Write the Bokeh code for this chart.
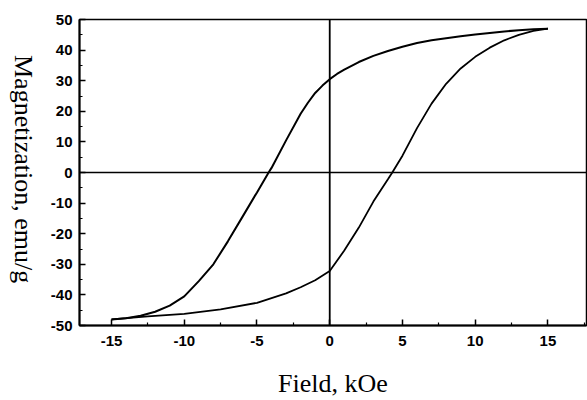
from bokeh.plotting import figure
from bokeh.models import Span, Range1d, FixedTicker, CustomJSTickFormatter, Div
from bokeh.layouts import row
from bokeh.embed import file_html
from bokeh.resources import INLINE

# Descending branch (from +15 kOe to -15 kOe)
field_down = [15, 14, 13, 12, 11, 10, 9, 8, 7, 6, 5, 4, 3, 2, 1, 0.5, 0,
              -0.5, -1, -1.5, -2, -3, -4, -4.2, -5, -6, -7, -8, -9, -10, -11, -12, -13, -14, -15]
mag_down = [47, 46.8, 46.5, 46.1, 45.6, 45.1, 44.5, 43.9, 43.2, 42.3, 41.1, 39.7, 38.1, 36.1, 33.6, 32.2, 30.5,
            28.4, 26, 22.8, 19.2, 10.5, 1.5, 0, -6.5, -14.5, -22.5, -30, -35.5, -40.5, -43.5, -45.5, -46.8, -47.6, -48]

# Ascending branch (from -15 kOe to +15 kOe)
field_up = [-15, -12.5, -10, -7.5, -5, -3, -2, -1, 0, 1, 2, 3, 4, 4.3, 5, 6, 7, 8, 9, 10, 11, 12, 13, 14, 15]
mag_up = [-48, -47, -46.2, -44.7, -42.6, -39.5, -37.5, -35.2, -32.2, -25.5, -18, -9.5, -2.2, 0, 5.5,
          14.5, 22.5, 29, 34, 37.8, 40.8, 43.2, 45, 46.3, 47]

x_ticks = [-15, -10, -5, 0, 5, 10, 15]
y_ticks = [-50, -40, -30, -20, -10, 0, 10, 20, 30, 40, 50]
x_label = "Field, kOe"
y_label = "Magnetization, emu/g"

p = figure(width=547, height=400, output_backend="svg", toolbar_location=None,
           x_range=Range1d(-17.2, 17.65), y_range=Range1d(-50, 50),
           min_border_left=39, min_border_right=1, min_border_top=19, min_border_bottom=74,
           margin=0)

p.xgrid.visible = False
p.ygrid.visible = False
p.background_fill_color = "white"
p.border_fill_color = "white"
p.outline_line_color = "black"
p.outline_line_width = 1.5

p.line(field_down, mag_down, line_color="black", line_width=2)
p.line(field_up, mag_up, line_color="black", line_width=1.8)

p.add_layout(Span(location=0, dimension="width", line_color="black", line_width=1.5))
p.add_layout(Span(location=0, dimension="height", line_color="black", line_width=1.8))

fmt = CustomJSTickFormatter(code="return tick.toString();")
for ax in (p.xaxis[0], p.yaxis[0]):
    ax.axis_line_width = 2
    ax.major_tick_in = 6
    ax.major_tick_out = 0
    ax.minor_tick_in = 3
    ax.minor_tick_out = 0
    ax.major_tick_line_width = 1.5
    ax.minor_tick_line_width = 1.2
    ax.major_label_text_font = "Liberation Sans"
    ax.major_label_text_font_style = "bold"
    ax.major_label_text_font_size = "15px"
    ax.major_label_text_color = "black"
    ax.formatter = fmt

p.xaxis.ticker = FixedTicker(ticks=x_ticks, minor_ticks=[-17.5, -12.5, -7.5, -2.5, 2.5, 7.5, 12.5, 17.5])
p.yaxis.ticker = FixedTicker(ticks=y_ticks, minor_ticks=[-45, -35, -25, -15, -5, 5, 15, 25, 35, 45])
p.xaxis.major_label_standoff = 10
p.yaxis.major_label_standoff = 7

p.xaxis.axis_label = x_label
p.xaxis.axis_label_text_font = "Liberation Serif"
p.xaxis.axis_label_text_font_style = "normal"
p.xaxis.axis_label_text_font_size = "26px"
p.xaxis.axis_label_text_color = "black"
p.xaxis.axis_label_standoff = 20

ydiv = Div(width=40, height=400, margin=0,
           text=('<div style="writing-mode:vertical-rl; height:338px; width:30px; '
                 'text-align:center; font-family:\'Liberation Serif\'; font-size:26px; '
                 'line-height:30px; color:black; margin-left:8px; white-space:nowrap;">'
                 + y_label + '</div>'))

layout = row(ydiv, p, spacing=0, margin=0)
open("out.html", "w").write(file_html(layout, INLINE))
